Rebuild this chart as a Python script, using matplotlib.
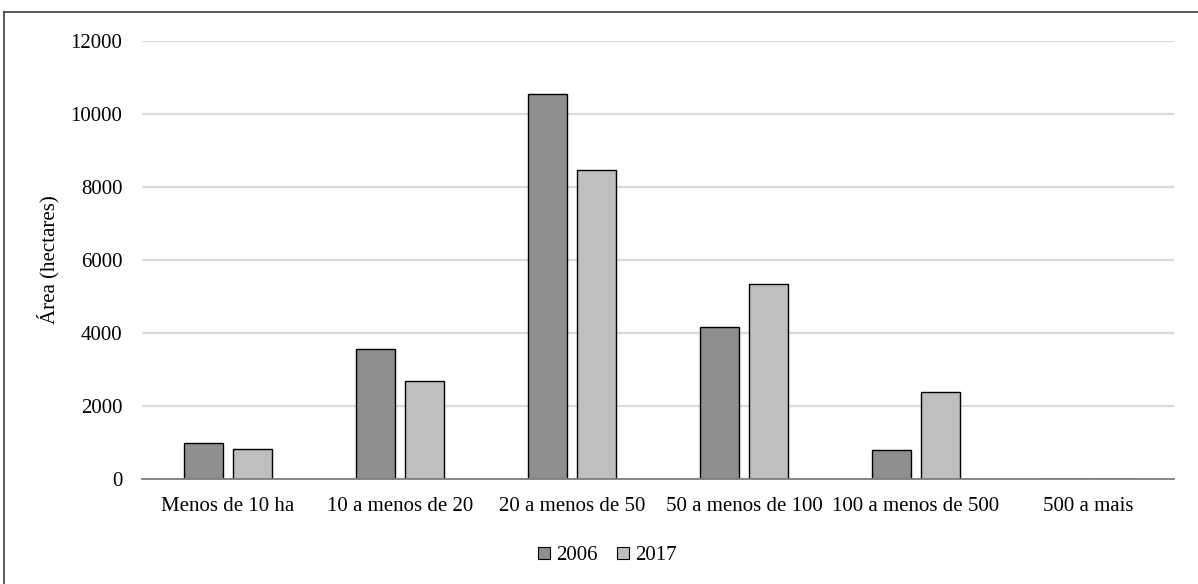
import matplotlib
matplotlib.use("Agg")
import matplotlib.pyplot as plt
from matplotlib.lines import Line2D
import numpy as np

# Área por grupo de área total (hectares)
categorias = ["Menos de 10 ha", "10 a menos de 20", "20 a menos de 50",
              "50 a menos de 100", "100 a menos de 500", "500 a mais"]
area_2006 = [990, 3545, 10540, 4170, 790, 0]
area_2017 = [820, 2690, 8460, 5345, 2370, 0]
anos = ["2006", "2017"]
yticks = [0, 2000, 4000, 6000, 8000, 10000, 12000]

COR_2006 = "#8f8f8f"
COR_2017 = "#bfbfbf"
FS = 15

plt.rcParams["font.family"] = ["Liberation Serif", "DejaVu Serif"]

fig = plt.figure(figsize=(11.98, 5.84), dpi=100)
ax = fig.add_axes([0.1183, 0.1803, 0.8617, 0.7495])

x = np.arange(len(categorias))
largura = 0.227
desloc = 0.142

ax.bar(x - desloc, area_2006, largura, color=COR_2006, edgecolor="black",
       linewidth=1.0, zorder=3, label=anos[0])
ax.bar(x + desloc, area_2017, largura, color=COR_2017, edgecolor="black",
       linewidth=1.0, zorder=3, label=anos[1])

ax.set_xlim(-0.5, len(categorias) - 0.5)
ax.set_ylim(0, 12000)
ax.set_yticks(yticks)
ax.set_yticklabels([str(v) for v in yticks], fontsize=FS)
ax.set_xticks(x)
ax.set_xticklabels(categorias, fontsize=FS)
ax.tick_params(axis="both", length=0)
ax.tick_params(axis="x", pad=13)
ax.tick_params(axis="y", pad=14)

ax.yaxis.grid(True, color="#d9d9d9", linewidth=1.6, zorder=0)
ax.set_axisbelow(True)
for lado in ["top", "right", "left"]:
    ax.spines[lado].set_visible(False)
ax.spines["bottom"].set_color("#7f7f7f")
ax.spines["bottom"].set_linewidth(1.3)
ax.spines["bottom"].set_zorder(4)

ax.set_ylabel("Área (hectares)", fontsize=FS, labelpad=8)

# legenda centralizada abaixo do gráfico
handles = [Line2D([], [], marker="s", linestyle="none", markersize=8,
                  markerfacecolor=c, markeredgecolor="black",
                  markeredgewidth=0.8)
           for c in (COR_2006, COR_2017)]
fig.legend(handles, anos, loc="center", bbox_to_anchor=(0.505, 0.049),
           ncol=2, frameon=False, fontsize=FS, handletextpad=0.1,
           columnspacing=0.7, handlelength=1.0)

# moldura (apenas bordas superior e esquerda visíveis)
fig.add_artist(Line2D([4 / 1198, 4 / 1198], [0, 1 - 11.5 / 584],
                      transform=fig.transFigure, color="#404040", lw=1.2))
fig.add_artist(Line2D([4 / 1198, 1], [1 - 11.5 / 584, 1 - 11.5 / 584],
                      transform=fig.transFigure, color="#404040", lw=1.2))

fig.savefig("out.png", dpi=100)
